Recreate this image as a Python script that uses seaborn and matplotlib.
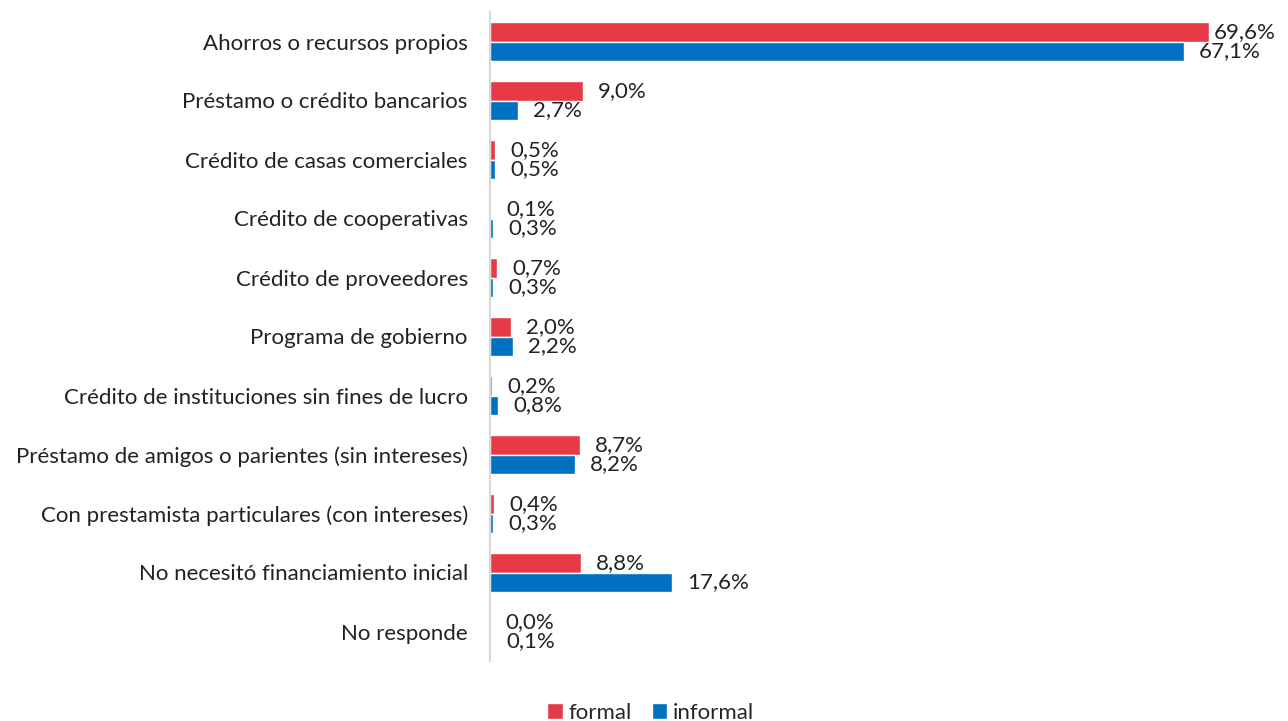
import pandas as pd
import matplotlib.pyplot as plt
import seaborn as sns

# Datos del gráfico
categorias = [
    "Ahorros o recursos propios",
    "Préstamo o crédito bancarios",
    "Crédito de casas comerciales",
    "Crédito de cooperativas",
    "Crédito de proveedores",
    "Programa de gobierno",
    "Crédito de instituciones sin fines de lucro",
    "Préstamo de amigos o parientes (sin intereses)",
    "Con prestamista particulares (con intereses)",
    "No necesitó financiamiento inicial",
    "No responde",
]
formal = [69.6, 9.0, 0.5, 0.1, 0.7, 2.0, 0.2, 8.7, 0.4, 8.8, 0.0]
informal = [67.1, 2.7, 0.5, 0.3, 0.3, 2.2, 0.8, 8.2, 0.3, 17.6, 0.1]
grupos = ["formal", "informal"]
colores = {"formal": "#E63B46", "informal": "#0070C0"}

df = pd.DataFrame({
    "categoria": categorias * 2,
    "valor": formal + informal,
    "grupo": ["formal"] * len(categorias) + ["informal"] * len(categorias),
})

sns.set_theme(style="white")
plt.rcParams['font.family'] = ['Lato', 'DejaVu Sans']

fig = plt.figure(figsize=(12.88, 7.21), dpi=100)
ax = fig.add_axes([490 / 1288, 1 - 661 / 721, 798 / 1288, 649 / 721])

sns.barplot(data=df, y="categoria", x="valor", hue="grupo", hue_order=grupos,
            palette=colores, orient="h", width=0.67, saturation=1, ax=ax)

# etiquetas de datos con coma decimal
for cont, vals in zip(ax.containers, [formal, informal]):
    for rect, v in zip(cont, vals):
        x_end = rect.get_x() + rect.get_width()
        pad = 3 if v > 68 else 11  # la etiqueta mayor se ajusta al borde
        ax.annotate(f"{v:.1f}%".replace(".", ","),
                    (x_end, rect.get_y() + rect.get_height() / 2),
                    xytext=(pad, 0), textcoords="offset points",
                    ha="left", va="center", fontsize=16, color="#222222")

ax.set_xlim(0, 77.2)
ax.set_ylim(10.5, -0.5)
ax.set_xlabel("")
ax.set_ylabel("")
ax.set_xticks([])
ax.tick_params(axis="y", length=0, pad=16, labelsize=16, labelcolor="#222222")
for s in ["top", "right", "bottom"]:
    ax.spines[s].set_visible(False)
ax.spines["left"].set_color("#D9D9D9")
ax.spines["left"].set_linewidth(1.5)

handles, labels = ax.get_legend_handles_labels()
ax.get_legend().remove()
fig.legend(handles, labels, loc="lower center", bbox_to_anchor=(0.505, -0.03),
           ncol=2, frameon=False, fontsize=16, handlelength=0.7, handleheight=0.7,
           handletextpad=0.25, columnspacing=0.9)

fig.savefig("out.png", dpi=100)
